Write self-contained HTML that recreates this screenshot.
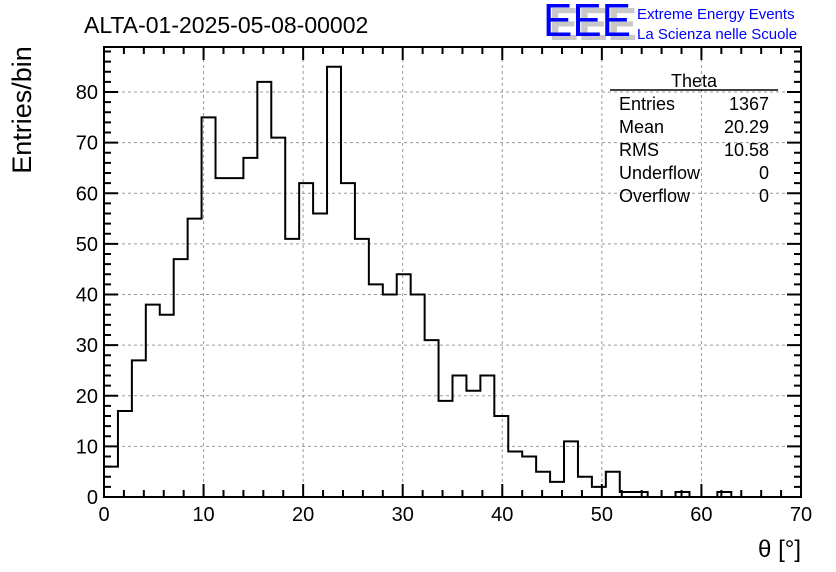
<!DOCTYPE html>
<html><head><meta charset="utf-8"><style>
body{margin:0;background:#fff}
svg{display:block;font-family:"Liberation Sans",sans-serif}
</style></head><body>
<svg id="c" width="836" height="572" viewBox="0 0 836 572">
<text x="84" y="33" font-size="23">ALTA-01-2025-05-08-00002</text>
<g>
<text x="549" y="40" font-size="46" fill="#c8c8c8" font-weight="bold" textLength="88" lengthAdjust="spacingAndGlyphs">EEE</text>
<text x="543" y="36" font-size="46" fill="#0000ff" textLength="88" lengthAdjust="spacingAndGlyphs">EEE</text>
<text x="637" y="19" font-size="15" fill="#0000ff">Extreme Energy Events</text>
<text x="637" y="39" font-size="15" fill="#0000ff">La Scienza nelle Scuole</text>
</g>
<g id="grid"></g>
<g id="ticks"></g>
<path id="hist" fill="none" stroke="#000" stroke-width="2"/>
<rect x="104" y="47" width="697" height="450" fill="none" stroke="#000" stroke-width="2"/>
<g id="xlabels" font-size="20" text-anchor="middle"></g>
<g id="ylabels" font-size="20" text-anchor="end"></g>
<text x="801" y="557" font-size="24" text-anchor="end">θ [°]</text>
<text transform="translate(31,110) rotate(-90)" font-size="27" text-anchor="middle">Entries/bin</text>
<g font-size="18">
<text x="694" y="87" text-anchor="middle">Theta</text>
<line x1="610" y1="90" x2="778" y2="90" stroke="#000" stroke-width="1.5"/>
<text x="619" y="110">Entries</text><text x="769" y="110" text-anchor="end">1367</text>
<text x="619" y="133">Mean</text><text x="769" y="133" text-anchor="end">20.29</text>
<text x="619" y="156">RMS</text><text x="769" y="156" text-anchor="end">10.58</text>
<text x="619" y="179">Underflow</text><text x="769" y="179" text-anchor="end">0</text>
<text x="619" y="202">Overflow</text><text x="769" y="202" text-anchor="end">0</text>
</g>
</svg>
<script>
const binWidth = 1.4;
const counts = [6,17,27,38,36,47,55,75,63,63,67,82,71,51,62,56,85,62,51,42,40,44,40,31,19,24,21,24,16,9,8,5,3,11,4,2,5,1,1,0,0,1,0,0,1,0,0,0,0,0];
const xTicks = [0,10,20,30,40,50,60,70];
const yTicks = [0,10,20,30,40,50,60,70,80];
const NS='http://www.w3.org/2000/svg';
const X0=104,X1=801,Y0=497,Y1=47,XMAX=70,YMAX=88.9;
const sx=v=>X0+v/XMAX*(X1-X0);
const sy=v=>Y0-v/YMAX*(Y0-Y1);
function mk(t,a,p){const e=document.createElementNS(NS,t);for(const k in a)e.setAttribute(k,a[k]);p.appendChild(e);return e;}
const grid=document.getElementById('grid'),ticks=document.getElementById('ticks');
xTicks.forEach(v=>{if(v>0&&v<XMAX){const l=mk('line',{x1:sx(v),x2:sx(v),y1:Y1,y2:Y0,stroke:'#999','stroke-dasharray':'3,3'},grid);

}});
yTicks.forEach(v=>{if(v>0){const l=mk('line',{x1:X0,x2:X1,y1:sy(v),y2:sy(v),stroke:'#999','stroke-dasharray':'3,3'},grid);

}});
let d='';
for(let v=0;v<=XMAX+0.01;v+=2){const len=(v%10===0)?13:7;const x=sx(v);
d+=`M${x},${Y0}v${-len}M${x},${Y1}v${len}`;}
for(let v=0;v<=YMAX;v+=2){const len=(v%10===0)?14:7;const y=sy(v);
d+=`M${X0},${y}h${len}M${X1},${y}h${-len}`;}
const tp=mk('path',{d:d,stroke:'#000','stroke-width':2,fill:'none'},ticks);


let h=`M${sx(0)},${sy(0)}`;
counts.forEach((c,i)=>{h+=`V${sy(c)}H${sx((i+1)*binWidth)}`;});
h+=`V${sy(0)}`;
document.getElementById('hist').setAttribute('d',h);
const xl=document.getElementById('xlabels'),yl=document.getElementById('ylabels');
xTicks.forEach(v=>{const t=mk('text',{x:sx(v),y:521},xl);t.textContent=v;

});
yTicks.forEach(v=>{const t=mk('text',{x:98,y:sy(v)+7},yl);t.textContent=v;

});
</script>
</body></html>
